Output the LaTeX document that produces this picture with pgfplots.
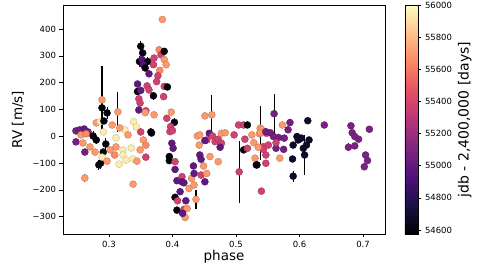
\documentclass[border=0pt]{standalone}
\usepackage{pgfplots}
\pgfplotsset{compat=1.18}
\usepackage{fontspec}
\setmainfont{DejaVu Sans}
\pgfplotsset{
  colormap={magma}{rgb255=(0,0,4) rgb255=(28,16,68) rgb255=(79,18,123) rgb255=(129,37,129) rgb255=(181,54,122) rgb255=(229,80,100) rgb255=(251,135,97) rgb255=(254,194,135) rgb255=(252,253,191)},
  every axis/.append style={/pgf/number format/assume math mode=true, tick label style={font=\fontsize{8.5}{10}\selectfont}},
}
\begin{document}
\begin{tikzpicture}
\useasboundingbox (-63pt,-34pt) rectangle (428pt,234pt);
\begin{axis}[
  name=ax,
  at={(0,0)}, anchor=south west,
  width=322pt, height=229pt, scale only axis,
  xmin=0.2276, xmax=0.7346, ymin=-365, ymax=490,
  xtick={0.3,0.4,0.5,0.6,0.7},
  xticklabels={0.3,0.4,0.5,0.6,0.7},
  ytick={-300,-200,-100,0,100,200,300,400},
  yticklabels={−300,−200,−100,0,100,200,300,400},
  tick align=outside, xtick pos=bottom, ytick pos=left,
  major tick length=3.5pt,
  tick style={black, line width=0.6pt},
  axis line style={line width=0.6pt},
  xlabel={phase}, ylabel={RV [m/s]},
  label style={font=\fontsize{13.5}{15}\selectfont},
  xlabel style={at={(axis description cs:0.5,-0.10)}, anchor=center},
  ylabel style={at={(axis description cs:-0.14,0.5)}, anchor=center},
  colormap name=magma,
  point meta min=54575, point meta max=56000,
  colorbar,
  colorbar shift/.style={xshift=20pt},
  colorbar style={
    at={(parent axis.north east)}, anchor=north west,
    width=13pt, height=229pt, scale only axis,
    ytick={54600,54800,55000,55200,55400,55600,55800,56000},
    yticklabels={54600,54800,55000,55200,55400,55600,55800,56000},
    scaled y ticks=false,
    yticklabel style={font=\fontsize{8.5}{10}\selectfont},
    ytick pos=right, yticklabel pos=right,
    major tick length=3.5pt, tick align=outside,
    axis line style={line width=0.5pt},
    ylabel={jdb - 2,400,000 [days]},
    ylabel style={at={(axis description cs:4.6,0.5)}, anchor=center, font=\fontsize{14}{16}\selectfont},
  },
]
\addplot[scatter, only marks, mark=*, mark size=3.5pt, scatter src=explicit,
  error bars/.cd, y dir=both, y explicit, error mark=none,
  error bar style={black, line width=1.1pt}]
table[x=ph, y=rv, y error=e, meta=jd] {
ph rv e jd
0.248 20 10 55060
0.254 24 8 55060
0.261 27 8 55000
0.267 16 8 55060
0.248 -21 8 55060
0.256 5 8 55700
0.264 9 8 55650
0.259 -25 8 55700
0.270 -40 8 55700
0.262 -59 8 55060
0.278 -59 8 55700
0.262 -156 15 55700
0.275 1 18 54600
0.280 -14 15 54600
0.284 -107 18 54620
0.287 -100 22 54600
0.289 136 125 55700
0.289 106 30 54600
0.297 87 22 54600
0.280 50 8 55700
0.286 54 8 55950
0.292 57 8 54600
0.291 16 8 55950
0.295 -29 22 54600
0.291 -59 10 54600
0.289 -78 8 55950
0.297 -93 8 55700
0.302 -51 8 55700
0.305 42 8 55700
0.309 -70 8 55650
0.311 -6 8 55950
0.311 -40 8 55700
0.314 91 75 55700
0.316 -104 8 55950
0.322 -51 8 55950
0.322 -70 8 55950
0.325 24 8 55950
0.327 -89 8 55950
0.330 5 8 55700
0.335 -44 8 55950
0.338 -85 8 55950
0.339 54 8 55950
0.343 35 8 55950
0.344 -93 8 55700
0.349 -51 8 55700
0.350 16 8 55380
0.354 -14 8 55700
0.358 -78 8 55380
0.366 16 15 54600
0.338 -179 8 55700
0.358 -33 8 55650
0.317 31 8 55700
0.384 436 8 55700
0.350 336 20 54600
0.353 311 15 54600
0.348 279 20 54600
0.352 286 10 54950
0.361 279 15 54600
0.354 267 8 54950
0.357 255 12 54600
0.370 267 8 55380
0.371 292 8 55380
0.379 323 8 55650
0.382 304 8 55380
0.387 317 12 54600
0.387 286 8 55700
0.390 267 8 55700
0.380 246 8 55650
0.363 233 8 55000
0.377 226 8 55380
0.375 204 8 55380
0.345 195 8 55000
0.360 188 8 55380
0.345 167 12 54600
0.350 171 8 55000
0.363 173 8 55380
0.370 151 15 54600
0.347 140 8 55380
0.349 124 8 55380
0.347 98 8 55000
0.358 95 8 55380
0.357 88 8 55700
0.371 80 8 55700
0.387 186 8 55380
0.392 184 12 54600
0.386 148 8 55380
0.398 90 8 55700
0.391 67 8 55380
0.403 52 15 54600
0.396 17 8 55380
0.397 36 8 55380
0.367 12 10 54600
0.400 21 8 55380
0.399 -26 8 55000
0.401 -45 8 55000
0.395 -76 15 54600
0.395 -91 8 54600
0.404 -95 8 55380
0.404 -124 8 55000
0.407 -166 8 55000
0.415 -151 8 55380
0.415 -170 8 55000
0.418 -174 8 55000
0.412 -207 8 55000
0.404 -228 10 54600
0.408 -241 8 55380
0.407 -276 12 54600
0.418 -273 8 55380
0.421 -241 8 55000
0.423 -270 8 55700
0.420 -303 12 55700
0.416 -288 8 55000
0.426 -195 8 55700
0.430 -157 8 55700
0.437 -236 37 55700
0.434 -182 8 55700
0.434 -139 8 55000
0.433 -111 8 55000
0.445 -145 8 55380
0.451 -170 8 55000
0.454 -139 8 55700
0.449 -111 8 55700
0.443 -70 8 55000
0.445 -86 8 55000
0.459 -76 8 55700
0.472 -95 8 55700
0.442 -33 8 55700
0.439 1 8 55700
0.443 5 8 55700
0.451 76 8 55700
0.462 80 75 55700
0.458 11 8 55000
0.463 1 8 55380
0.454 -14 8 55380
0.451 -16 8 55000
0.467 -20 8 55380
0.472 -11 8 55380
0.477 -26 8 55380
0.477 11 8 55700
0.483 13 8 55700
0.475 -41 8 55000
0.497 5 8 55380
0.504 42 12 55380
0.512 42 8 55380
0.518 42 12 54600
0.505 -133 116 55380
0.514 -11 8 55380
0.512 -51 8 54600
0.518 -45 8 55380
0.525 5 8 55700
0.528 -24 8 55700
0.537 9 8 55700
0.538 30 8 55700
0.543 -39 8 55380
0.533 -107 8 54650
0.530 -82 8 55700
0.547 -101 8 55380
0.540 -205 12 55380
0.548 11 8 55380
0.560 84 75 55060
0.573 42 8 55700
0.585 51 12 55060
0.582 24 8 55060
0.540 26 8 55700
0.538 13 100 55700
0.547 17 8 55060
0.554 13 8 55060
0.559 -1 8 55060
0.567 -5 8 55060
0.576 -7 8 55060
0.596 -1 8 54680
0.598 -14 8 54680
0.603 -7 8 54680
0.615 -14 8 54680
0.611 -33 8 54680
0.606 -45 8 54680
0.608 -70 75 54680
0.590 -33 8 54680
0.589 -85 8 54680
0.590 -149 20 54680
0.613 58 10 54680
0.575 -49 8 55060
0.569 -82 8 55700
0.563 -45 8 55060
0.563 -24 8 55380
0.551 -33 8 55380
0.543 -49 8 55380
0.535 -41 8 55700
0.532 -107 8 54600
0.547 -70 8 55380
0.639 42 8 55080
0.681 39 8 55080
0.683 13 8 55080
0.687 -1 8 55080
0.693 -11 8 55080
0.677 -41 15 55080
0.687 -36 8 55080
0.704 -70 8 55080
0.707 -91 8 55080
0.702 -114 8 55080
0.710 26 8 55080
};
\end{axis}
\end{tikzpicture}
\end{document}
